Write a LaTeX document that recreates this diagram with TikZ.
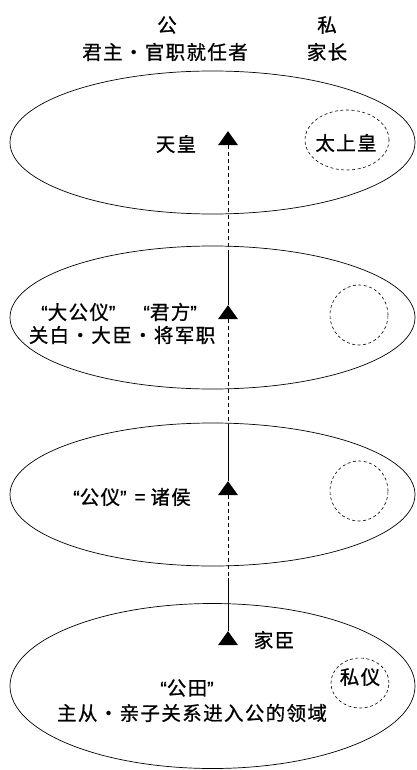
\documentclass[tikz,border=0pt]{standalone}
\usepackage{fontspec}
\setmainfont{Noto Sans CJK SC}[FakeBold=0.8]
\newfontfamily\quotefont{Liberation Sans}[FakeBold=0.8]
\newcommand{\myoq}{{\quotefont “}}
\newcommand{\mycq}{{\quotefont ”}}
\usetikzlibrary{shapes.geometric}
\begin{document}
\begin{tikzpicture}[x=1pt,y=-1pt,
  region/.style={ellipse,draw,line width=0.7pt,inner sep=0pt},
  privring/.style={ellipse,draw,line width=0.6pt,dash pattern=on 3pt off 2.5pt,inner sep=0pt},
  lbl/.style={inner sep=0pt,font=\fontsize{19.5}{19.5}\selectfont\addfontfeature{LetterSpace=7}},
  tri/.style={isosceles triangle,isosceles triangle apex angle=71,shape border rotate=90,
    isosceles triangle stretches,minimum height=14pt,minimum width=20pt,inner sep=0pt,fill=black,draw=none},
  dashseg/.style={line width=0.8pt,dash pattern=on 4pt off 3pt},
  solidseg/.style={line width=0.8pt}]
\useasboundingbox (0,0) rectangle (416,770);
% regions
\node[region,minimum width=405pt,minimum height=143pt] (e1) at (212.5,142.5) {};
\node[region,minimum width=405pt,minimum height=143pt] (e2) at (212.5,317.5) {};
\node[region,minimum width=405pt,minimum height=143pt] (e3) at (212.5,494.5) {};
\node[region,minimum width=405pt,minimum height=165pt] (e4) at (212.5,686) {};
% private circles
\node[privring,minimum width=84pt,minimum height=60pt] (c1) at (347,140) {};
\node[privring,minimum width=58pt,minimum height=60pt] (c2) at (359,315) {};
\node[privring,minimum width=58pt,minimum height=60pt] (c3) at (359,491) {};
\node[privring,minimum width=58pt,minimum height=50pt] (c4) at (360,683) {};
% triangles
\node[tri] (t1) at (228,140) {};
\node[tri] (t2) at (228,314) {};
\node[tri] (t3) at (228,490) {};
\node[tri] (t4) at (228,640) {};
% connector switch points
\coordinate (s2) at (228,250);
\coordinate (s3) at (228,425);
\coordinate (s4) at (228,578);
\draw[dashseg] (t1.south) -- (s2);
\draw[solidseg] (s2) -- (t2.north);
\draw[dashseg] (t2.south) -- (s3);
\draw[solidseg] (s3) -- (t3.north);
\draw[dashseg] (t3.south) -- (s4);
\draw[solidseg] (s4) -- (t4.north);
% header
\node[lbl] (hpub) at (167,25) {公};
\node[lbl] (hpubsub) at (165,52) {君主・官职就任者};
\node[lbl] (hpriv) at (327,25) {私};
\node[lbl] (hprivsub) at (327,52) {家长};
% labels
\node[lbl] (l1) at (176,144) {天皇};
\node[lbl] (l1p) at (346,143) {太上皇};
\node[lbl] (l2a) at (119,312) {\myoq 大公仪\mycq\hspace{28pt}\myoq 君方\mycq};
\node[lbl] (l2b) at (122,335) {关白・大臣・将军职};
\node[lbl] (l3) at (132,497) {\myoq 公仪\mycq\hspace{8pt}=\hspace{5pt}诸侯};
\node[lbl] (l4k) at (274,640) {家臣};
\node[lbl] (l4p) at (360,677) {私仪};
\node[lbl] (l4a) at (187,688) {\myoq 公田\mycq};
\node[lbl] (l4b) at (192,713) {主从・亲子关系进入公的领域};
\end{tikzpicture}
\end{document}
